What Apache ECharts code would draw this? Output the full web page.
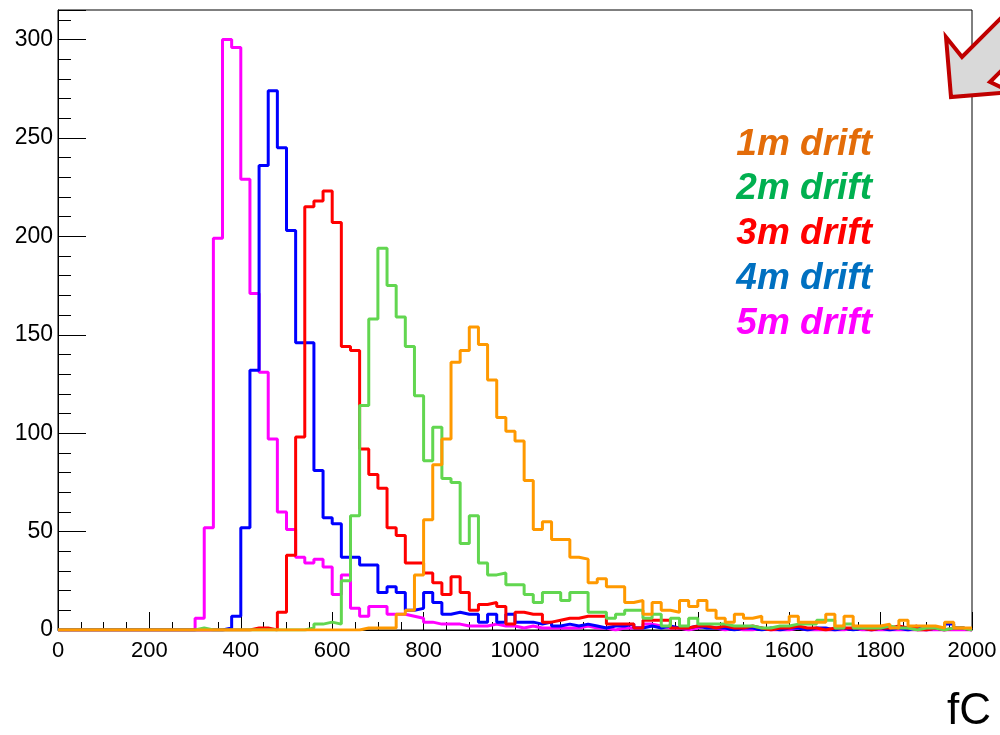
<!DOCTYPE html>
<html lang="en">
<head>
    <meta charset="UTF-8">
    <title>Charge spectra vs drift</title>
    <script src="https://cdn.jsdelivr.net/npm/echarts@6/dist/echarts.min.js"></script>
    <style>
        body, html {
            margin: 0;
            padding: 0;
            width: 100%;
            height: 100%;
            background: #fff;
        }
        #chart {
            width: 1000px;
            height: 735px;
        }
    </style>
</head>
<body>
    <div id="chart"></div>
    <script>
        // histogram: 100 bins of 20 fC, 0 - 2000 fC
        var binWidth = 20;
        var xTicks = [0, 200, 400, 600, 800, 1000, 1200, 1400, 1600, 1800, 2000];
        var yTicks = [0, 50, 100, 150, 200, 250, 300];
        var labels = ['1m drift', '2m drift', '3m drift', '4m drift', '5m drift'];

        // counts per bin, bin i starts at i*20 fC
        var drift1m = [
            0,0,0,0,0,0,0,0,0,0, 0,0,0,0,0,0,0,0,0,0,
            0,0,0,0,0,0,0,0,0,0, 0,0,0,1,1,1,1,8,10,28,
            56,84,97,136,142,154,145,127,108,101, 96,76,51,55,46,46,37,36,24,26,
            22,22,14,15,8,14,10,9,15,12, 15,10,6,4,8,6,7,4,4,4,
            7,4,4,4,8,2,7,2,2,2, 3,1,5,2,2,2,1,4,1,1
        ];
        var drift2m = [
            0,0,0,0,0,0,0,0,0,0, 0,0,0,0,0,1,0,0,0,0,
            0,0,0,0,0,0,0,1,3,4, 3,25,58,114,158,194,175,159,144,119,
            86,103,77,75,44,58,34,28,29,23, 23,18,14,19,19,15,19,19,9,9,
            6,8,10,10,6,8,2,6,2,6, 3,3,3,2,2,2,1,1,2,2,
            3,3,3,5,5,1,3,1,1,1, 2,1,1,0,1,1,0,1,1,0
        ];
        var drift3m = [
            0,0,0,0,0,0,0,0,0,0, 0,0,0,0,0,0,0,0,0,0,
            0,1,1,0,9,38,98,215,218,223, 207,144,142,92,79,72,52,48,34,34,
            29,24,18,27,19,10,13,14,12,3, 9,8,8,4,5,6,6,7,7,7,
            3,3,3,1,5,5,5,1,1,2, 2,1,2,1,1,2,1,0,1,1,
            2,1,1,0,1,1,1,1,0,1, 1,2,1,2,0,1,0,1,1,0
        ];
        var drift4m = [
            0,0,0,0,0,0,0,0,0,0, 0,0,0,0,0,0,0,0,1,7,
            52,132,236,274,245,203,146,146,81,57, 54,37,37,33,33,19,22,19,10,11,
            19,14,8,9,8,8,4,8,4,8, 4,4,3,4,2,3,2,3,2,1,
            2,2,3,1,2,1,2,1,1,2, 1,1,1,0,1,1,0,1,0,1,
            1,0,1,1,0,1,0,1,0,1, 0,1,0,1,0,1,0,3,1,0
        ];
        var drift5m = [
            0,0,0,0,0,0,0,0,0,0, 0,0,0,0,0,6,52,199,300,296,
            229,171,131,97,60,51,37,34,36,32, 18,28,11,7,12,12,8,8,7,6,
            4,3,3,3,2,2,2,3,2,2, 1,2,1,1,1,1,1,2,1,1,
            0,1,1,1,3,2,1,1,0,1, 2,1,0,1,0,0,1,0,0,0,
            1,0,0,0,0,0,1,0,0,0, 0,0,0,0,0,0,0,0,0,0
        ];

        var lineColors = ['#ff9900', '#62d650', '#ff0000', '#0000ff', '#ff00ff'];
        var textColors = ['#e36c09', '#00b050', '#ff0000', '#0070c0', '#ff00ff'];

        function toSteps(counts) {
            var pts = counts.map(function (v, i) { return [i * binWidth, v]; });
            pts.push([counts.length * binWidth, counts[counts.length - 1]]);
            return pts;
        }

        var hists = [drift1m, drift2m, drift3m, drift4m, drift5m];
        var font = 'Liberation Sans, Arial, sans-serif';

        // draw 5m first so 1m ends on top
        var series = [];
        for (var k = hists.length - 1; k >= 0; k--) {
            series.push({
                name: labels[k],
                type: 'line',
                step: 'end',
                showSymbol: false,
                symbol: 'none',
                clip: true,
                lineStyle: { color: lineColors[k], width: 3 },
                data: toSteps(hists[k])
            });
        }

        var legendText = labels.map(function (t, k) {
            return {
                type: 'text',
                right: 128,
                top: 126 + k * 44.7,
                style: {
                    text: t,
                    fill: textColors[k],
                    font: 'italic bold 37px ' + font
                }
            };
        });

        var option = {
            animation: false,
            backgroundColor: '#fff',
            grid: {
                left: 58, right: 28, top: 10, bottom: 105,
                show: true, borderColor: '#000', borderWidth: 1,
                backgroundColor: 'transparent'
            },
            xAxis: {
                type: 'value',
                min: xTicks[0],
                max: xTicks[xTicks.length - 1],
                interval: 200,
                splitLine: { show: false },
                axisLine: { lineStyle: { color: '#000', width: 1 } },
                axisTick: { inside: true, length: 18, lineStyle: { color: '#000' } },
                minorTick: { show: true, splitNumber: 4, length: 8, lineStyle: { color: '#000' } },
                axisLabel: {
                    color: '#000', fontSize: 22, fontFamily: font, margin: 10,
                    formatter: function (v) { return String(v); }
                }
            },
            yAxis: [{
                type: 'value',
                min: 0,
                max: 315,
                interval: 50,
                splitLine: { show: false },
                axisLine: { show: true, lineStyle: { color: '#000', width: 1 } },
                axisTick: { inside: true, length: 28, lineStyle: { color: '#000' } },
                axisLabel: {
                    color: '#000', fontSize: 23, fontFamily: font, margin: 5,
                    formatter: function (v) { return yTicks.indexOf(v) >= 0 ? String(v) : ''; }
                }
            }, {
                type: 'value',
                position: 'left',
                min: 0,
                max: 315,
                interval: 10,
                splitLine: { show: false },
                axisLine: { show: false },
                axisTick: { inside: true, length: 13, lineStyle: { color: '#000' } },
                axisLabel: { show: false }
            }],
            series: series,
            graphic: legendText.concat([
                {
                    type: 'text',
                    left: 947,
                    top: 690,
                    style: { text: 'fC', fill: '#000', font: '44px ' + font }
                },
                {
                    type: 'polygon',
                    shape: {
                        points: [[951, 97], [946, 37], [962, 57], [1022, -3],
                                 [1050, 22], [990, 82], [1011, 92]]
                    },
                    style: { fill: '#d9d9d9', stroke: '#c00000', lineWidth: 4, lineJoin: 'miter' },
                    z: 100
                }
            ])
        };

        var chart = echarts.init(document.getElementById('chart'));
        chart.setOption(option);
    </script>
</body>
</html>
